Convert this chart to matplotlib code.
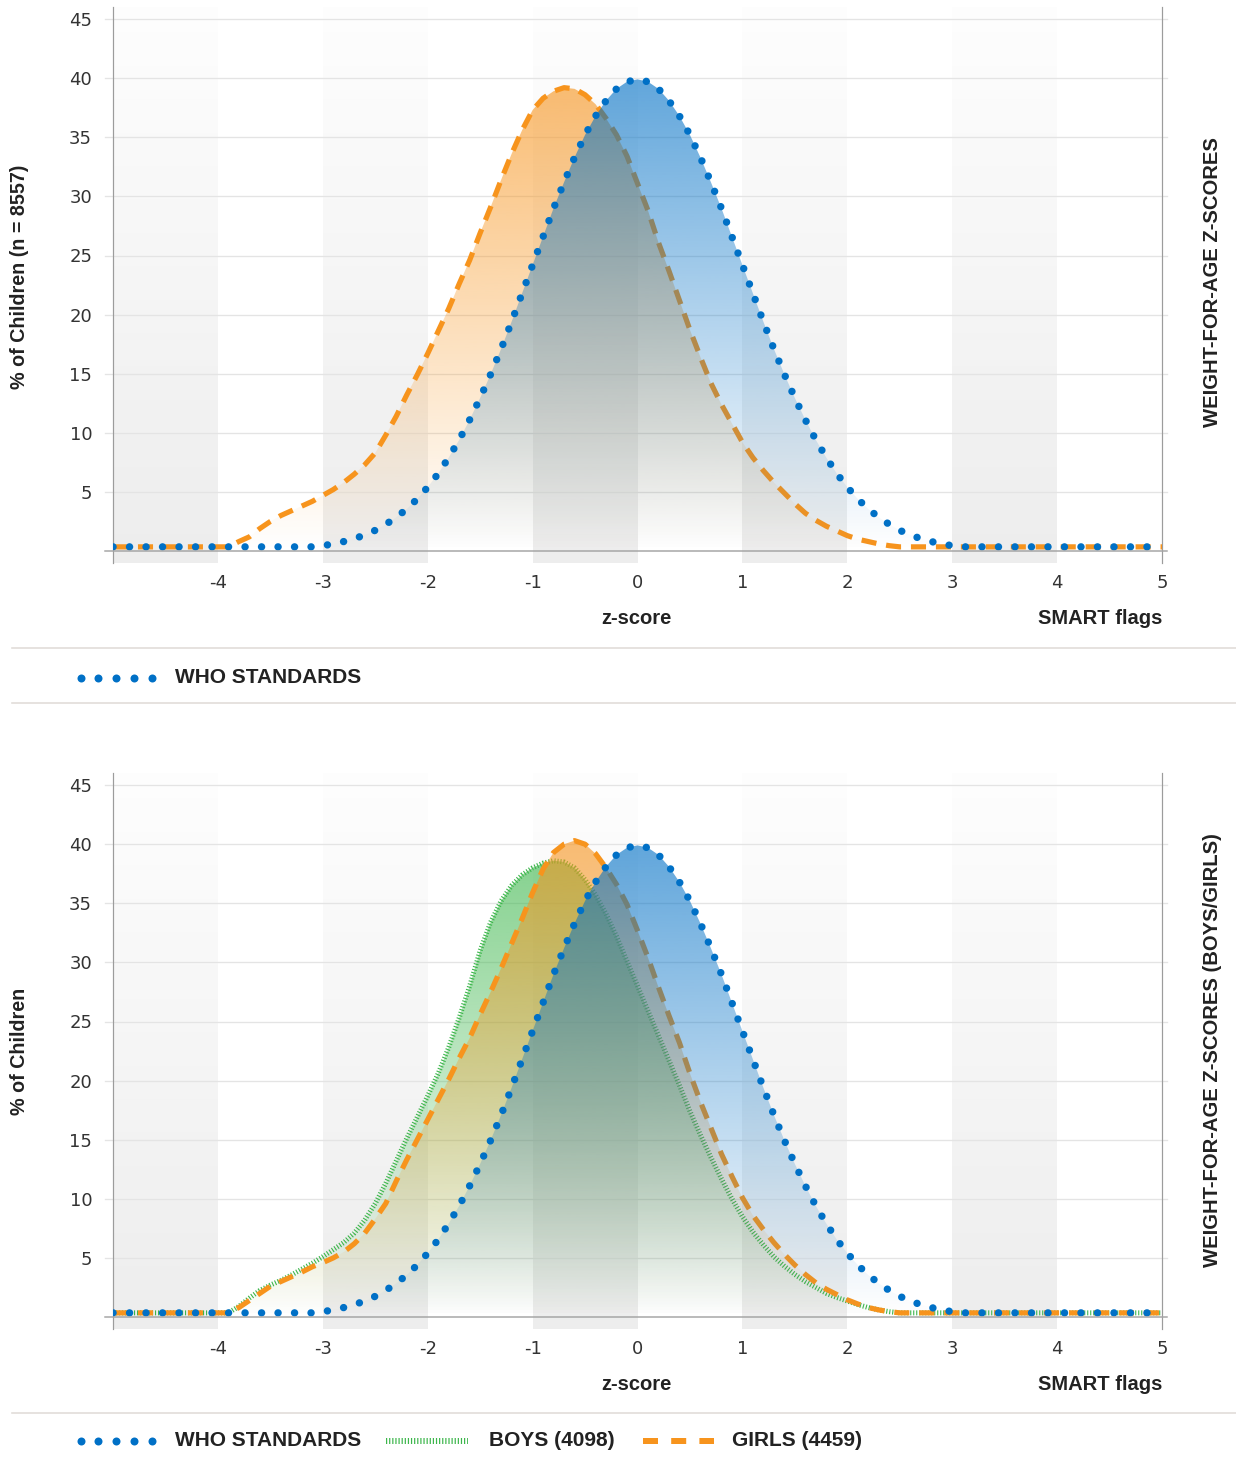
import numpy as np
import matplotlib
matplotlib.use("Agg")
import matplotlib.pyplot as plt
from matplotlib.colors import to_rgb
from matplotlib.lines import Line2D
from matplotlib.patches import Polygon

# ---------------- data ----------------
z_scores = np.linspace(-5.0, 5.0, 101)

who_standards = [
    0.35, 0.35, 0.35, 0.35, 0.35, 0.35, 0.35, 0.35, 0.35, 0.35,
    0.35, 0.35, 0.35, 0.35, 0.35, 0.35, 0.35, 0.35, 0.35, 0.35,
    0.45, 0.6, 0.8, 1.05, 1.35, 1.75, 2.25, 2.85, 3.55, 4.4,
    5.4, 6.55, 7.9, 9.4, 11.1, 12.95, 14.95, 17.1, 19.4, 21.8,
    24.2, 26.6, 29.0, 31.2, 33.3, 35.2, 36.8, 38.1, 39.1, 39.7,
    39.9,
    39.7, 39.1, 38.1, 36.8, 35.2, 33.3, 31.2, 29.0, 26.6, 24.2,
    21.8, 19.4, 17.1, 14.95, 12.95, 11.1, 9.4, 7.9, 6.55, 5.4,
    4.4, 3.55, 2.85, 2.25, 1.75, 1.35, 1.05, 0.8, 0.6, 0.45,
    0.35, 0.35, 0.35, 0.35, 0.35, 0.35, 0.35, 0.35, 0.35, 0.35,
    0.35, 0.35, 0.35, 0.35, 0.35, 0.35, 0.35, 0.35, 0.35, 0.35,
]

all_children = [
    0.35, 0.35, 0.35, 0.35, 0.35, 0.35, 0.35, 0.35, 0.35, 0.35, 0.35, 0.35,
    0.8, 1.2, 1.9, 2.5, 3.0, 3.4, 3.8, 4.2, 4.7, 5.2,
    5.8, 6.5, 7.3, 8.3, 9.8, 11.4, 13.2, 14.9, 16.7, 18.6,
    20.5, 22.6, 24.6, 26.9, 29.1, 31.4, 33.6, 35.6, 37.3, 38.3,
    38.9, 39.2, 39.1, 38.6, 37.8, 36.6, 35.2, 33.4,
    31.1, 28.8, 26.1, 23.7, 21.2, 18.7, 16.4, 14.2, 12.4, 10.8,
    9.2, 7.9, 6.8, 5.8, 4.9, 4.0, 3.2, 2.6, 2.1, 1.7,
    1.3, 1.0, 0.8, 0.6, 0.45,
    0.35, 0.35, 0.35, 0.35, 0.35, 0.35, 0.35, 0.35, 0.35, 0.35, 0.35, 0.35, 0.35,
    0.35, 0.35, 0.35, 0.35, 0.35, 0.35, 0.35, 0.35, 0.35, 0.35, 0.35, 0.35, 0.35,
]

girls = [
    0.35, 0.35, 0.35, 0.35, 0.35, 0.35, 0.35, 0.35, 0.35, 0.35, 0.35, 0.35,
    0.8, 1.4, 2.0, 2.6, 3.0, 3.4, 3.8, 4.25, 4.6, 5.0,
    5.5, 6.2, 7.1, 8.3, 9.6, 11.5, 13.3, 15.0, 16.7, 18.4,
    20.1, 21.9, 23.6, 25.6, 27.5, 29.5, 31.6, 33.7, 35.9, 37.9,
    39.3, 40.0, 40.3, 40.0, 39.2, 38.0, 36.6, 34.9,
    32.7, 30.4, 27.9, 25.5, 23.2, 20.6, 18.2, 16.0, 13.8, 11.9,
    10.1, 8.6, 7.4, 6.3, 5.3, 4.4, 3.6, 2.9, 2.35, 1.9,
    1.45, 1.1, 0.8, 0.6, 0.45,
    0.35, 0.35, 0.35, 0.35, 0.35, 0.35, 0.35, 0.35, 0.35, 0.35, 0.35, 0.35, 0.35,
    0.35, 0.35, 0.35, 0.35, 0.35, 0.35, 0.35, 0.35, 0.35, 0.35, 0.35, 0.35, 0.35,
]

boys = [
    0.35, 0.35, 0.35, 0.35, 0.35, 0.35, 0.35, 0.35, 0.35, 0.35, 0.35, 0.35,
    0.9, 1.6, 2.25, 2.7, 3.1, 3.55, 4.05, 4.55, 5.1, 5.7,
    6.3, 7.1, 8.2, 9.6, 11.3, 13.2, 15.1, 16.9, 18.7, 20.6,
    22.8, 25.3, 28.0, 31.0, 33.4, 35.2, 36.5, 37.4, 38.0, 38.4,
    38.6, 38.5, 38.0, 37.0, 35.7, 34.1, 32.2, 30.1,
    28.0, 25.9, 23.8, 21.7, 19.6, 17.4, 15.4, 13.5, 11.7, 10.0,
    8.5, 7.2, 6.1, 5.1, 4.3, 3.6, 3.0, 2.5, 2.0, 1.65,
    1.35, 1.05, 0.8, 0.6, 0.45,
    0.35, 0.35, 0.35, 0.35, 0.35, 0.35, 0.35, 0.35, 0.35, 0.35, 0.35, 0.35, 0.35,
    0.35, 0.35, 0.35, 0.35, 0.35, 0.35, 0.35, 0.35, 0.35, 0.35, 0.35, 0.35, 0.35,
]

x_ticks = [-4, -3, -2, -1, 0, 1, 2, 3, 4, 5]
y_ticks = [5, 10, 15, 20, 25, 30, 35, 40, 45]
shaded_columns = [(-5, -4), (-3, -2), (-1, 0), (1, 2), (3, 4)]

legend_who = "WHO STANDARDS"
legend_boys = "BOYS (4098)"
legend_girls = "GIRLS (4459)"

# ---------------- style ----------------
BLUE = "#0070c6"
ORANGE = "#f7941d"
GREEN = "#3cb64b"
W, H = 1236, 1463
DPI = 100
PX = 72.0 / DPI  # points per pixel

BOLD = dict(family="Liberation Sans", weight="bold", color="#222222")

fig = plt.figure(figsize=(W / DPI, H / DPI), dpi=DPI)
fig.patch.set_facecolor("white")

YMIN, YMAX = -1.0, 46.0
UNIT = 11.82


def make_axes(y0px):
    top = y0px - YMAX * UNIT
    bot = y0px - YMIN * UNIT
    ax = fig.add_axes([113 / W, 1 - bot / H, (1162 - 113) / W, (bot - top) / H])
    ax.set_xlim(-5, 5)
    ax.set_ylim(YMIN, YMAX)
    ax.set_facecolor("white")
    for s in ("top", "bottom"):
        ax.spines[s].set_visible(False)
    for s in ("left", "right"):
        ax.spines[s].set_color("#9c9c9c")
        ax.spines[s].set_linewidth(1.2 * PX)
    ax.set_xticks(x_ticks)
    ax.set_xticklabels([str(t) for t in x_ticks])
    ax.set_yticks(y_ticks)
    ax.set_yticklabels([str(t) for t in y_ticks])
    ax.tick_params(axis="both", length=0, labelsize=13, labelcolor="#333333")
    ax.tick_params(axis="x", pad=8)
    ax.tick_params(axis="y", pad=15)
    for lab in ax.get_xticklabels() + ax.get_yticklabels():
        lab.set_family("DejaVu Sans")
    # shaded vertical columns with a soft vertical gradient
    grad = np.linspace(0.995, 0.93, 256)
    img = np.dstack([grad, grad, grad]).reshape(256, 1, 3)
    for (a, b) in shaded_columns:
        ax.imshow(img, aspect="auto", origin="upper", extent=[a, b, YMIN, YMAX],
                  zorder=0, interpolation="bilinear")
    # horizontal grid lines (slightly overhanging the plot)
    for t in y_ticks:
        ax.plot([-5.08, 5.05], [t, t], color="#e4e4e4", lw=1.3 * PX, zorder=1,
                clip_on=False)
    ax.plot([-5.08, 5.05], [0, 0], color="#a5a5a5", lw=1.5 * PX, zorder=20,
            clip_on=False)
    ax.set_xlim(-5, 5)
    ax.set_ylim(YMIN, YMAX)
    return ax


def gradient_fill(ax, x, y, color, alpha_top, z):
    x = np.asarray(x, dtype=float)
    y = np.asarray(y, dtype=float)
    verts = np.column_stack([np.r_[x[0], x, x[-1]], np.r_[0, y, 0]])
    poly = Polygon(verts, closed=True, facecolor="none", edgecolor="none")
    ax.add_patch(poly)
    img = np.zeros((256, 1, 4))
    img[..., :3] = to_rgb(color)
    img[..., 3] = np.linspace(alpha_top, 0.0, 256)[:, None]
    im = ax.imshow(img, aspect="auto", origin="upper",
                   extent=[x.min(), x.max(), 0, y.max()], zorder=z,
                   interpolation="bilinear")
    im.set_clip_path(poly)


DOT_LW = 7.4 * PX
DASH_LW = 5.2 * PX
HATCH_LW = 5.0 * PX
dot_style = dict(color=BLUE, lw=DOT_LW, linestyle=(0, (0.01, 2.22)),
                 dash_capstyle="round")
dash_style = dict(color=ORANGE, lw=DASH_LW, linestyle=(0, (2.9, 1.9)),
                  dash_capstyle="butt")
hatch_style = dict(color=GREEN, lw=HATCH_LW, linestyle=(0, (0.22, 0.38)),
                   dash_capstyle="butt")


def add_series(ax, y, style, color, z):
    gradient_fill(ax, z_scores, y, color, 0.62, z)
    ax.plot(z_scores, y, zorder=z + 0.5, **style)


# ---------------- top chart ----------------
ax1 = make_axes(551)
add_series(ax1, all_children, dash_style, ORANGE, 3)
add_series(ax1, who_standards, dot_style, BLUE, 5)
ax1.set_xlim(-5, 5)
ax1.set_ylim(YMIN, YMAX)

# ---------------- bottom chart ----------------
ax2 = make_axes(1317)
add_series(ax2, boys, hatch_style, GREEN, 3)
add_series(ax2, girls, dash_style, ORANGE, 5)
add_series(ax2, who_standards, dot_style, BLUE, 7)
ax2.set_xlim(-5, 5)
ax2.set_ylim(YMIN, YMAX)


# ---------------- text ----------------
def ftext(xpx, ypx, s, **kw):
    fig.text(xpx / W, 1 - ypx / H, s, **kw)


ftext(20, 277, "% of Children (n = 8557)", rotation=90, ha="center", va="center",
      fontsize=14.2, **BOLD)
ftext(20, 1051, "% of Children", rotation=90, ha="center", va="center",
      fontsize=14.2, **BOLD)
ftext(1212, 282, "WEIGHT-FOR-AGE Z-SCORES", rotation=90, ha="center", va="center",
      fontsize=14.6, **BOLD)
ftext(1212, 1050, "WEIGHT-FOR-AGE Z-SCORES (BOYS/GIRLS)", rotation=90, ha="center",
      va="center", fontsize=14.6, **BOLD)
for ypx in (618, 1384):
    ftext(636, ypx, "z-score", ha="center", va="center", fontsize=14.5, **BOLD)
    ftext(1162, ypx, "SMART flags", ha="right", va="center", fontsize=14.5, **BOLD)

# separators
for ypx in (648, 703, 1413):
    fig.add_artist(Line2D([12 / W, 1.0], [1 - ypx / H] * 2, color="#e0dcd8",
                          lw=1.6 * PX, transform=fig.transFigure))


def legend_dots(ypx):
    xs = [80.7, 98.3, 116.0, 134.0, 151.7]
    fig.add_artist(Line2D([x / W for x in xs], [1 - ypx / H] * 5, color=BLUE,
                          marker="o", markersize=8 * PX, linestyle="none",
                          markeredgewidth=0, transform=fig.transFigure))


legend_dots(677.5)
ftext(175, 677.5, legend_who, ha="left", va="center", fontsize=15, **BOLD)

legend_dots(1441)
ftext(175, 1441, legend_who, ha="left", va="center", fontsize=15, **BOLD)
fig.add_artist(Line2D([386 / W, 468 / W], [1 - 1441 / H] * 2, color=GREEN,
                      lw=6 * PX, linestyle=(0, (0.2, 0.32)), dash_capstyle="butt",
                      transform=fig.transFigure))
ftext(489, 1441, legend_boys, ha="left", va="center", fontsize=15, **BOLD)
fig.add_artist(Line2D([643 / W, 714 / W], [1 - 1441 / H] * 2, color=ORANGE,
                      lw=6 * PX, linestyle=(0, (2.5, 2.2)), dash_capstyle="butt",
                      transform=fig.transFigure))
ftext(732, 1441, legend_girls, ha="left", va="center", fontsize=15, **BOLD)

fig.savefig("out.png", dpi=DPI, facecolor="white")
